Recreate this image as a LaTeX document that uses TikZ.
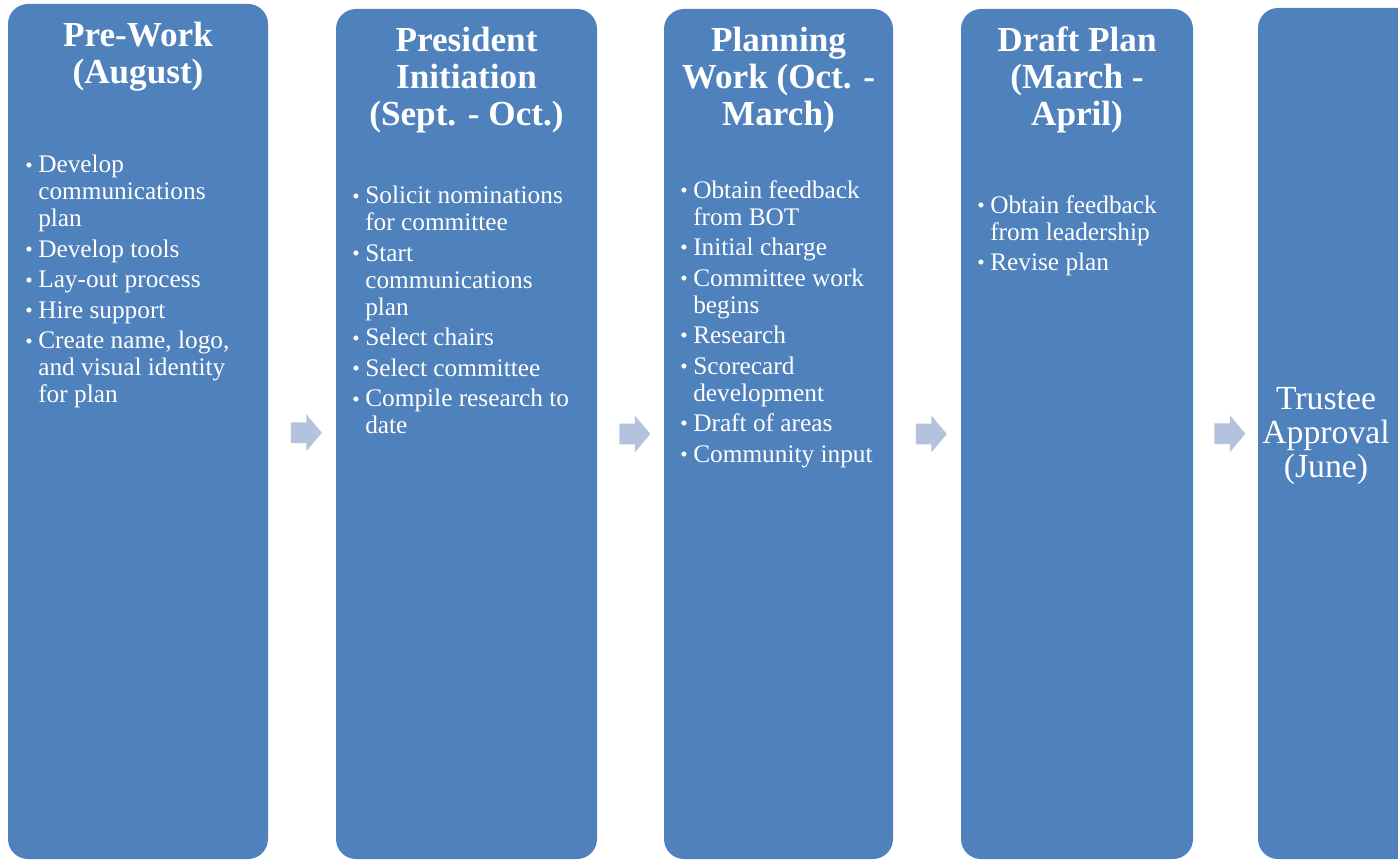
\documentclass[tikz,border=0pt]{standalone}
\usepackage{fontspec}
\setmainfont{Liberation Serif}
\usetikzlibrary{positioning,calc,fit,shapes.arrows}

\definecolor{phaseblue}{HTML}{4F81BD}
\definecolor{arrowblue}{HTML}{B4C3DD}

% bullet and hanging indent for the task lists
\newcommand\bul{\makebox[0.325cm][l]{\raisebox{0.5pt}{\fontsize{15}{15}\selectfont\textbullet}}}
\newcommand\cont{\hspace*{0.325cm}}
\newcommand\nxt{\\[2.5pt]}

\tikzset{
  phase/.style={rectangle, rounded corners=0.5cm, fill=phaseblue, inner sep=0pt},
  phasetitle/.style={text=white, font=\fontsize{25}{26.2}\selectfont\bfseries, align=center, inner sep=0pt},
  phaselist/.style={text=white, font=\fontsize{18}{19.2}\selectfont, align=left, inner sep=0pt, anchor=north west},
  steparrow/.style={single arrow, fill=arrowblue, inner xsep=0pt, inner ysep=0.25cm,
    minimum height=0.775cm, single arrow head extend=0.2cm, single arrow tip angle=100}
}

\begin{document}
\begin{tikzpicture}[x=0.025cm, y=-0.025cm]
  \useasboundingbox (0,0) rectangle (1398,860);
  \clip (0,0) rectangle (1398,860);

  % the five phases
  \node[phase, fit={(8,4) (268,859)}] (prework) {};
  \node[phase, fit={(336,9) (597,859)}] (initiation) {};
  \node[phase, fit={(664,9) (893,859)}] (planning) {};
  \node[phase, fit={(961,9) (1193,859)}] (draftplan) {};
  \node[phase, fit={(1258,8) (1480,859)}] (approval) {};

  % headings
  \node[phasetitle, below=0.45cm of prework.north] (prework-title) {Pre-Work\\(August)};
  \node[phasetitle, below=0.45cm of initiation.north] (initiation-title) {President\\Initiation\\(Sept. - Oct.)};
  \node[phasetitle, below=0.45cm of planning.north] (planning-title) {Planning\\Work (Oct. -\\March)};
  \node[phasetitle, below=0.45cm of draftplan.north] (draftplan-title) {Draft Plan\\(March -\\April)};

  % tasks
  \node[phaselist] (prework-list) at (25,155) {\bul Develop\\ \cont communications\\ \cont plan\nxt
    \bul Develop tools\nxt \bul Lay-out process\nxt \bul Hire support\nxt
    \bul Create name, logo,\\ \cont and visual identity\\ \cont for plan};
  \node[phaselist] (initiation-list) at (352,186) {\bul Solicit nominations\\ \cont for committee\nxt
    \bul Start\\ \cont communications\\ \cont plan\nxt \bul Select chairs\nxt
    \bul Select committee\nxt \bul Compile research to\\ \cont date};
  \node[phaselist] (planning-list) at (680,180) {\bul Obtain feedback\\ \cont from BOT\nxt
    \bul Initial charge\nxt \bul Committee work\\ \cont begins\nxt \bul Research\nxt
    \bul Scorecard\\ \cont development\nxt \bul Draft of areas\nxt \bul Community input};
  \node[phaselist] (draftplan-list) at (977,195) {\bul Obtain feedback\\ \cont from leadership\nxt
    \bul Revise plan};

  \node[text=white, font=\fontsize{24}{24.5}\selectfont, align=center, inner sep=0pt]
    (approval-text) at (1326,436) {Trustee\\Approval\\(June)};

  % arrows between phases
  \foreach \a/\b in {prework/initiation, initiation/planning, planning/draftplan, draftplan/approval}
    \node[steparrow] (\a-arrow) at ($(\a.east)!0.5!(\b.west)$) {};
\end{tikzpicture}
\end{document}
